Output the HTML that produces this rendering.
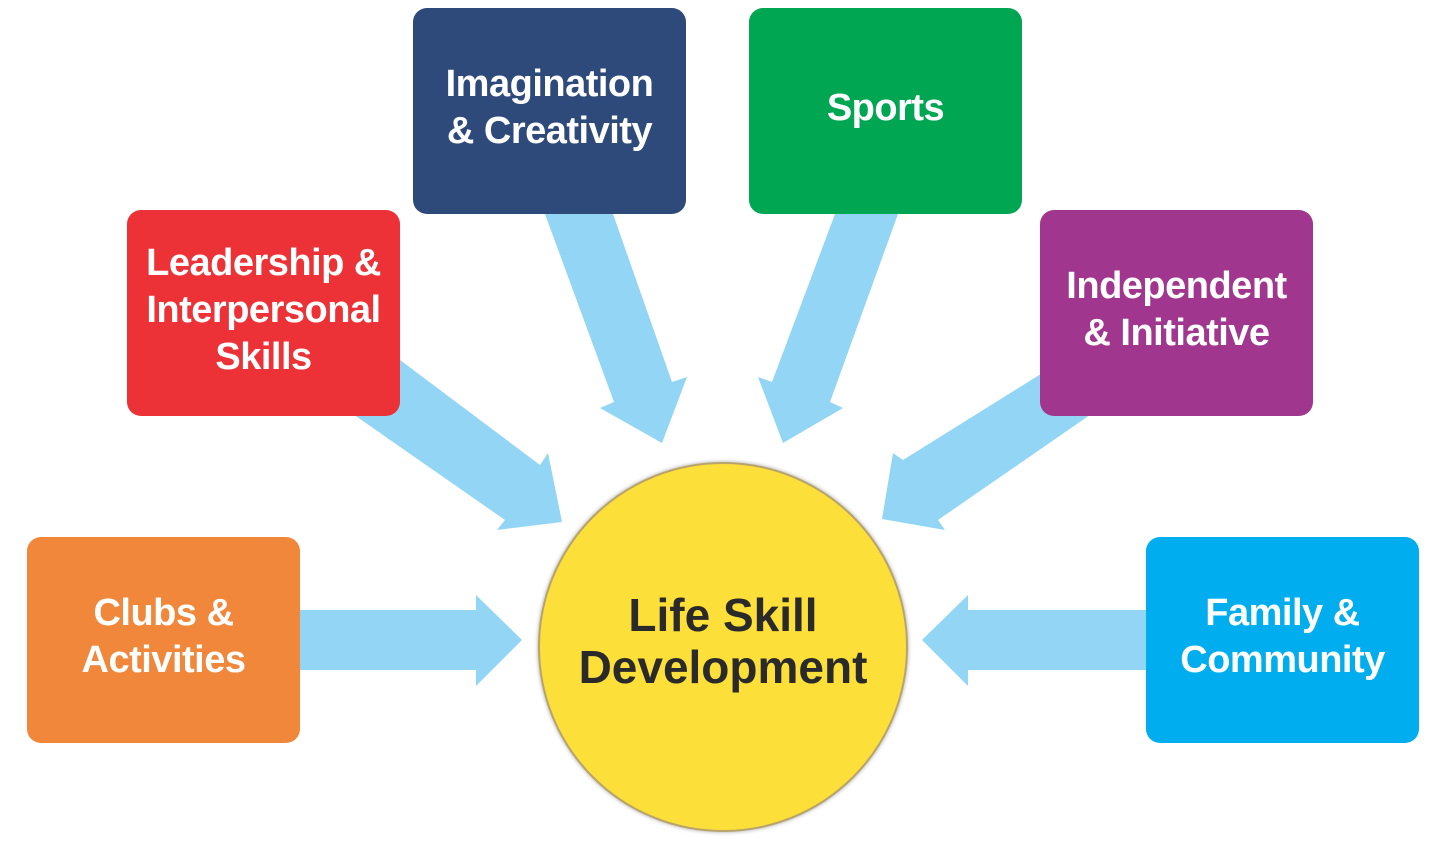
<!DOCTYPE html>
<html><head><style>
body{margin:0;width:1442px;height:849px;background:#fff;position:relative;overflow:hidden;font-family:"Liberation Sans",sans-serif}
svg{position:absolute;left:0;top:0}
.b{position:absolute;width:273px;height:206px;box-sizing:border-box;padding-bottom:6px;border-radius:14px;color:#fff;font-weight:bold;font-size:38px;line-height:47px;display:flex;align-items:center;justify-content:center;text-align:center;letter-spacing:-0.5px}
.c{position:absolute;left:538px;top:462px;width:366px;height:366px;box-sizing:content-box;border-radius:50%;background:#fddf3a;border:2px solid #b8a46a;box-shadow:0 0 4px rgba(0,0,0,.35);display:flex;align-items:center;justify-content:center;text-align:center;font-weight:bold;font-size:46px;line-height:52px;color:#2a2a2a}
.c span{position:relative;top:-6px}
</style></head><body>
<svg width="1442" height="849">
<g fill="#93d5f5">
<polygon points="545,214 613,214 672,382 687,377 662,443 600,408 614,402"/>
<polygon points="835,214 898,214 830,402 843,408 783,443 758,377 772,382"/>
<polygon points="380,345 540,465 548,453 562,522 497,530 505,520 340,405"/>
<polygon points="1060,362 903,460 893,453 882,519 945,530 938,520 1100,408"/>
<polygon points="290,610 476,610 476,595 522,640 476,686 476,670 290,670"/>
<polygon points="1150,610 968,610 968,595 922,640 968,686 968,670 1150,670"/>
</g>
</svg>
<div class="b" style="left:413px;top:8px;background:#2e4a7a">Imagination<br>&amp; Creativity</div>
<div class="b" style="left:749px;top:8px;background:#00a651">Sports</div>
<div class="b" style="left:127px;top:210px;background:#ed3237">Leadership &amp;<br>Interpersonal<br>Skills</div>
<div class="b" style="left:1040px;top:210px;background:#a1368f">Independent<br>&amp; Initiative</div>
<div class="b" style="left:27px;top:537px;background:#f1873a">Clubs &amp;<br>Activities</div>
<div class="b" style="left:1146px;top:537px;background:#00aeef">Family &amp;<br>Community</div>
<div class="c"><span>Life Skill<br>Development</span></div>
</body></html>
